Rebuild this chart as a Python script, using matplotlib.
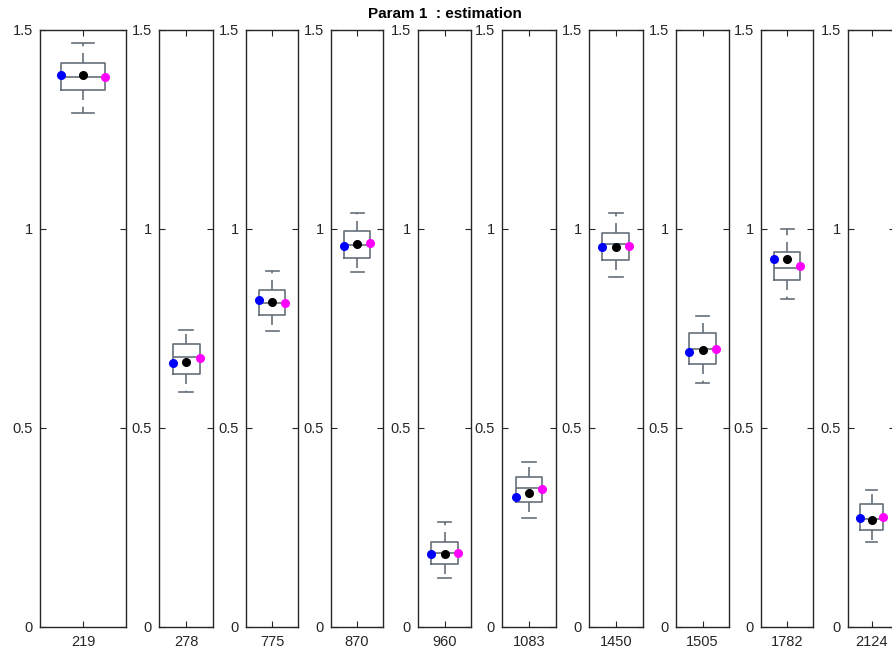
import numpy as np
import matplotlib
matplotlib.use('Agg')
import matplotlib.pyplot as plt

plt.rcParams['font.family'] = ['Liberation Sans', 'DejaVu Sans']

labels = ['219', '278', '775', '870', '960', '1083', '1450', '1505', '1782', '2124']
whislo = [1.290, 0.590, 0.743, 0.891, 0.124, 0.274, 0.878, 0.613, 0.824, 0.214]
q1 = [1.348, 0.634, 0.783, 0.927, 0.157, 0.315, 0.921, 0.661, 0.871, 0.244]
med = [1.382, 0.679, 0.814, 0.960, 0.185, 0.348, 0.961, 0.699, 0.902, 0.272]
q3 = [1.415, 0.710, 0.846, 0.993, 0.214, 0.377, 0.990, 0.737, 0.941, 0.310]
whishi = [1.467, 0.746, 0.894, 1.040, 0.264, 0.415, 1.039, 0.782, 0.998, 0.344]
est_blue = [1.385, 0.662, 0.821, 0.957, 0.183, 0.326, 0.954, 0.691, 0.924, 0.273]
est_black = [1.385, 0.666, 0.816, 0.962, 0.183, 0.336, 0.954, 0.695, 0.924, 0.269]
est_magenta = [1.380, 0.675, 0.813, 0.965, 0.187, 0.347, 0.957, 0.699, 0.906, 0.277]

# axes edges in pixels (left, right)
edges = [(40, 126), (159, 213), (246, 298), (331, 383), (418, 471),
         (502, 556), (589, 643), (676, 729), (761, 813), (848, 895)]

W, H = 892, 657
fig = plt.figure(figsize=(W / 100, H / 100), dpi=100)
bot = 1 - 627 / H
hgt = (627 - 29.5) / H

boxclr = '#66707a'
for i, (l, r) in enumerate(edges):
    ax = fig.add_axes([l / W, bot, (r - l) / W, hgt])
    st = [dict(whislo=whislo[i], q1=q1[i], med=med[i], q3=q3[i],
               whishi=whishi[i], fliers=[], label=labels[i])]
    ax.bxp(st, positions=[1], widths=0.5, showfliers=False,
           boxprops=dict(color=boxclr, linewidth=1.2),
           whiskerprops=dict(color=boxclr, linewidth=1.2, linestyle=(0, (6, 4))),
           capprops=dict(color=boxclr, linewidth=1.2),
           medianprops=dict(color=boxclr, linewidth=1.2))
    ax.plot(0.75, est_blue[i], 'o', color='blue', markersize=5.5, zorder=5)
    ax.plot(1.0, est_black[i], 'o', color='black', markersize=5.5, zorder=5)
    ax.plot(1.25, est_magenta[i], 'o', color='magenta', markersize=5.5, zorder=5)
    ax.set_xlim(0.5, 1.5)
    ax.set_ylim(0, 1.5)
    ax.set_yticks([0, 0.5, 1, 1.5])
    ax.set_yticklabels(['0', '0.5', '1', '1.5'])
    ax.set_xticks([1])
    ax.set_xticklabels([labels[i]])
    ax.tick_params(direction='in', length=4, width=0.8, top=True, right=True,
                   labelsize=10.5, colors='#262626', pad=5)
    ax.tick_params(axis='x', pad=6)
    for s in ax.spines.values():
        s.set_linewidth(1.0)
        s.set_color('#262626')
    if i == 4:
        ax.set_title('Param 1  : estimation', fontsize=11, fontweight='bold', pad=8)

fig.savefig('out.png', dpi=100)
